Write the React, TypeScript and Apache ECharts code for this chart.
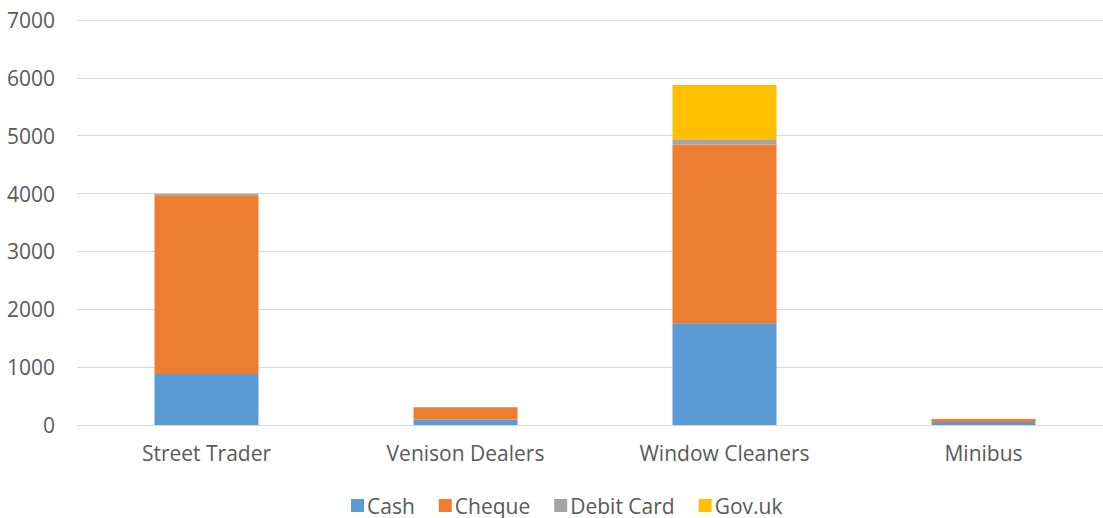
import React, { useEffect, useRef } from "react";
import * as echarts from "echarts";

const categories = ["Street Trader", "Venison Dealers", "Window Cleaners", "Minibus"];
const cash = [880, 95, 1760, 50];
const cheque = [3090, 210, 3090, 55];
const debitCard = [25, 0, 90, 0];
const govUk = [0, 0, 935, 0];
const yTicks = { min: 0, max: 7000, interval: 1000 };

const FONT = "'Open Sans', sans-serif";
const TEXT = "#595959";

export default function App() {
  const ref = useRef<HTMLDivElement>(null);
  useEffect(() => {
    if (!ref.current) return;
    const chart = echarts.init(ref.current, undefined, { renderer: "svg" });
    const mk = (name: string, data: number[], color: string) => ({
      name,
      type: "bar",
      stack: "total",
      data,
      barWidth: 104,
      itemStyle: { color },
      emphasis: { disabled: true },
    });
    chart.setOption({
      animation: false,
      textStyle: { fontFamily: FONT },
      grid: { left: 77, right: 0, top: 20, height: 405, containLabel: false },
      legend: {
        top: 495,
        left: 351,
        padding: 0,
        itemWidth: 13,
        itemHeight: 13,
        itemGap: 24,
        icon: "rect",
        textStyle: {
          color: TEXT,
          fontSize: 21,
          lineHeight: 18,
          fontFamily: FONT,
          padding: [0, 0, 0, -2],
        },
        data: ["Cash", "Cheque", "Debit Card", "Gov.uk"],
      },
      xAxis: {
        type: "category",
        data: categories,
        axisLine: { lineStyle: { color: "#d9d9d9", width: 1 } },
        axisTick: { show: false },
        axisLabel: { color: TEXT, fontSize: 21, fontFamily: FONT, margin: 17 },
      },
      yAxis: {
        type: "value",
        min: yTicks.min,
        max: yTicks.max,
        interval: yTicks.interval,
        axisLine: { show: false },
        axisTick: { show: false },
        splitLine: { lineStyle: { color: "#d9d9d9", width: 1 } },
        axisLabel: {
          color: TEXT,
          fontSize: 21,
          fontFamily: FONT,
          margin: 22,
          formatter: (v: number) => String(v),
        },
      },
      series: [
        mk("Cash", cash, "#5B9BD5"),
        mk("Cheque", cheque, "#ED7D31"),
        mk("Debit Card", debitCard, "#A5A5A5"),
        mk("Gov.uk", govUk, "#FFC000"),
      ],
    });
    return () => chart.dispose();
  }, []);
  return (
    <div
      ref={ref}
      style={{ position: "fixed", left: 0, top: 0, width: 1113, height: 518, background: "#fff" }}
    />
  );
}
